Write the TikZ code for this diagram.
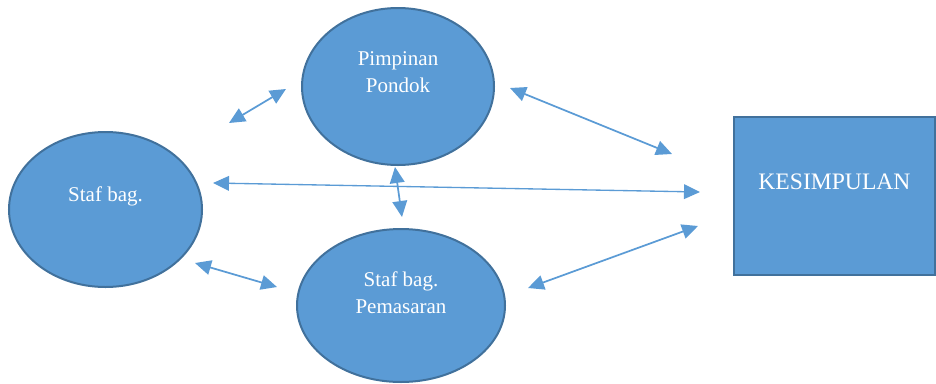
\documentclass[tikz,border=0pt]{standalone}
\usepackage{fontspec}
\setmainfont{Liberation Serif}
\usetikzlibrary{shapes.geometric,arrows.meta}

\definecolor{officeblue}{RGB}{91,155,213}
\definecolor{officeedge}{RGB}{65,113,156}

\tikzset{every picture/.style={line width=0.75pt}}
\tikzset{
  bubble/.style={ellipse, draw=officeedge, line width=1.5pt, fill=officeblue, inner sep=0pt},
  panel/.style={rectangle, draw=officeedge, line width=1.5pt, fill=officeblue, inner sep=0pt},
  caption/.style={text=white, align=center, inner sep=0pt, font=\fontsize{15.75}{20.25}\selectfont},
  link/.style={officeblue, line width=1.3pt, {Triangle[length=12pt,width=11pt]}-{Triangle[length=12pt,width=11pt]}}
}

\begin{document}
\begin{tikzpicture}[x=0.75pt,y=0.75pt,yscale=-1,xscale=1]
\useasboundingbox (0,0) rectangle (936,383);

%Shape: Ellipse
\node [bubble, minimum width=144pt, minimum height=117.75pt] (pimpinan) at (398,86.5) {};
%Shape: Ellipse
\node [bubble, minimum width=144.75pt, minimum height=116.25pt] (staf) at (105.5,209.5) {};
%Shape: Ellipse
\node [bubble, minimum width=156pt, minimum height=114.75pt] (pemasaran) at (401,305.5) {};
%Shape: Rectangle
\node [panel, minimum width=150.75pt, minimum height=118.5pt] (kesimpulan) at (834.5,196) {};

% Text Node
\node [caption] (pimpinantxt) at ([yshift=-10.5pt]pimpinan.center) {Pimpinan\\Pondok};
% Text Node
\node [caption] (staftxt) at ([yshift=-9.75pt]staf.center) {Staf bag.};
% Text Node
\node [caption] (pemasarantxt) at ([yshift=-9.75pt]pemasaran.center) {Staf bag.\\Pemasaran};
% Text Node
\node [caption, font=\fontsize{17.7}{21}\selectfont] (kesimpulantxt) at ([yshift=-11pt]kesimpulan.center) {KESIMPULAN};

% arrow ends
\coordinate (ua) at (229,123);
\coordinate (ub) at (286,89);
\coordinate (pa) at (510,88);
\coordinate (pb) at (672,154);
\coordinate (ha) at (213,183);
\coordinate (hb) at (700,192);
\coordinate (va) at (395,167);
\coordinate (vb) at (402,217);
\coordinate (la) at (195,263);
\coordinate (lb) at (277,287);
\coordinate (ra) at (528,288);
\coordinate (rb) at (698,226);

%Straight Lines
\draw [link] (ua) -- (ub);
%Straight Lines
\draw [link] (pa) -- (pb);
%Straight Lines
\draw [link, line width=1pt] (ha) -- (hb);
%Straight Lines
\draw [link] (va) -- (vb);
%Straight Lines
\draw [link] (la) -- (lb);
%Straight Lines
\draw [link] (ra) -- (rb);
\end{tikzpicture}
\end{document}
